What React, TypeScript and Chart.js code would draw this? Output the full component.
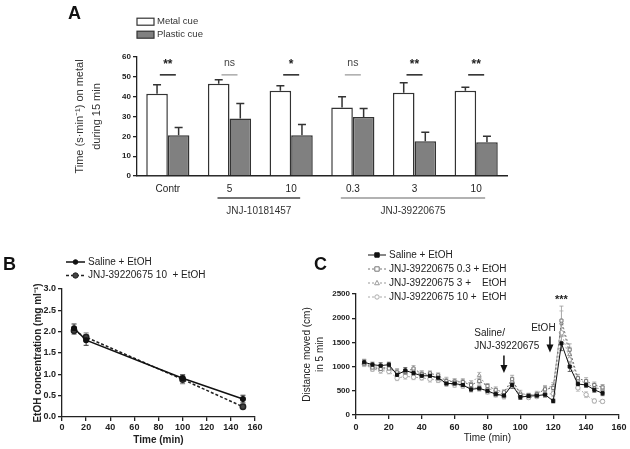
import React, { useEffect, useRef } from 'react';
import { Chart, registerables } from 'chart.js';

Chart.register(...registerables);

const FONT = "'Liberation Sans', Arial, Helvetica, sans-serif";
Chart.defaults.font.family = FONT;
Chart.defaults.color = '#222';

// ---------- Panel A ----------
const catsA = ['Contr', '5', '10', '0.3', '3', '10'];
const metalA = [41.5, 46.5, 43, 34.5, 42, 43];
const metalErrA = [4.5, 2, 2.5, 5.5, 5, 1.8];
const plasticA = [20.5, 29, 20.5, 29.7, 17.5, 17];
const plasticErrA = [4, 7.5, 5.5, 4.3, 4.5, 3];
const sigA = ['**', 'ns', '*', 'ns', '**', '**'];
const drugGroupsA = ['JNJ-10181457', 'JNJ-39220675'];
const drugGroupStartA = [1, 3];
const drugGroupEndA = [2, 5];

// ---------- Panel B ----------
const timeB = [10, 20, 100, 150];
const salineB = [2.08, 1.8, 0.91, 0.42];
const salineErrB = [0.1, 0.12, 0.08, 0.09];
const jnjB = [2.02, 1.87, 0.88, 0.24];
const jnjErrB = [0.08, 0.1, 0.1, 0.05];

// ---------- Panel C ----------
const timeC = [5, 10, 15, 20, 25, 30, 35, 40, 45, 50, 55, 60, 65, 70, 75, 80, 85, 90, 95, 100, 105, 110, 115, 120, 125, 130, 135, 140, 145, 150];
const salineC = [1090, 1040, 1020, 1040, 830, 920, 865, 810, 810, 770, 650, 650, 620, 530, 550, 500, 430, 400, 620, 370, 390, 400, 420, 290, 1480, 1000, 640, 620, 520, 450];
const salineErrC = [60, 50, 60, 50, 50, 60, 50, 60, 50, 60, 40, 40, 40, 50, 50, 50, 50, 50, 70, 50, 40, 40, 50, 40, 150, 100, 60, 50, 50, 50];
const jnj03C = [1060, 980, 950, 960, 880, 890, 960, 850, 860, 820, 700, 690, 680, 620, 700, 600, 520, 470, 740, 420, 410, 430, 530, 560, 1950, 1350, 760, 700, 620, 570];
const jnj03ErrC = [50, 60, 50, 50, 60, 50, 60, 60, 50, 50, 60, 50, 50, 50, 60, 50, 60, 50, 80, 50, 40, 40, 60, 70, 300, 120, 80, 70, 60, 60];
const jnj3C = [1080, 1000, 980, 980, 900, 860, 900, 840, 820, 740, 720, 700, 700, 650, 820, 560, 480, 430, 700, 460, 400, 440, 550, 600, 1900, 1250, 720, 660, 560, 540];
const jnj3ErrC = [60, 50, 60, 60, 60, 60, 60, 70, 60, 60, 60, 50, 50, 60, 60, 70, 60, 50, 80, 50, 40, 50, 60, 70, 250, 150, 80, 60, 60, 60];
const jnj10C = [1050, 950, 920, 900, 760, 800, 780, 770, 740, 720, 640, 620, 600, 560, 560, 480, 420, 380, 660, 390, 360, 380, 430, 440, 1700, 1150, 560, 420, 290, 280];
const jnj10ErrC = [50, 50, 60, 50, 50, 60, 50, 50, 60, 50, 50, 50, 50, 50, 50, 50, 50, 50, 70, 40, 40, 40, 50, 60, 200, 120, 70, 60, 40, 40];

function drawErrors(chart: any, upOnly: boolean, cap: number, lw: number) {
  const ctx = chart.ctx;
  const ys = chart.scales.y;
  chart.data.datasets.forEach((ds: any, i: number) => {
    if (!ds.errors) return;
    const meta = chart.getDatasetMeta(i);
    ctx.save();
    ctx.strokeStyle = ds.errorColor || '#222';
    ctx.lineWidth = lw;
    ctx.setLineDash([]);
    meta.data.forEach((el: any, j: number) => {
      const raw = ds.data[j];
      const v = typeof raw === 'number' ? raw : raw.y;
      const e = ds.errors[j];
      const x = el.x;
      const yt = ys.getPixelForValue(v + e);
      const yb = upOnly ? ys.getPixelForValue(v) : ys.getPixelForValue(v - e);
      ctx.beginPath();
      ctx.moveTo(x, yb);
      ctx.lineTo(x, yt);
      ctx.moveTo(x - cap / 2, yt);
      ctx.lineTo(x + cap / 2, yt);
      if (!upOnly) {
        ctx.moveTo(x - cap / 2, yb);
        ctx.lineTo(x + cap / 2, yb);
      }
      ctx.stroke();
    });
    ctx.restore();
  });
}

function drawMarker(ctx: any, style: string, x: number, y: number, r: number, fill: string, stroke: string) {
  ctx.save();
  ctx.setLineDash([]);
  ctx.beginPath();
  if (style === 'rect') ctx.rect(x - r, y - r, 2 * r, 2 * r);
  else if (style === 'triangle') {
    ctx.moveTo(x, y - r * 1.2);
    ctx.lineTo(x + r * 1.1, y + r * 0.8);
    ctx.lineTo(x - r * 1.1, y + r * 0.8);
    ctx.closePath();
  } else ctx.arc(x, y, r, 0, Math.PI * 2);
  ctx.fillStyle = fill;
  ctx.fill();
  ctx.strokeStyle = stroke;
  ctx.lineWidth = 1;
  ctx.stroke();
  ctx.restore();
}

function drawLineLegend(chart: any, x0: number, y0: number, rowH: number, sampleW: number, fontSize: number) {
  const ctx = chart.ctx;
  chart.data.datasets.forEach((ds: any, i: number) => {
    const y = y0 + i * rowH;
    ctx.save();
    ctx.strokeStyle = ds.borderColor;
    ctx.lineWidth = ds.borderWidth;
    ctx.setLineDash(ds.borderDash || []);
    ctx.beginPath();
    ctx.moveTo(x0, y);
    ctx.lineTo(x0 + sampleW, y);
    ctx.stroke();
    ctx.restore();
    drawMarker(ctx, ds.pointStyle, x0 + sampleW / 2, y, ds.pointRadius, ds.pointBackgroundColor, ds.pointBorderColor);
    ctx.save();
    ctx.fillStyle = '#222';
    ctx.font = `${fontSize}px ${FONT}`;
    ctx.textAlign = 'left';
    ctx.textBaseline = 'middle';
    ctx.fillText(ds.label, x0 + sampleW + 3, y);
    ctx.restore();
  });
}

function panelLetter(ctx: any, t: string, x: number, y: number) {
  ctx.save();
  ctx.font = `bold 18px ${FONT}`;
  ctx.fillStyle = '#111';
  ctx.textAlign = 'left';
  ctx.textBaseline = 'middle';
  ctx.fillText(t, x, y);
  ctx.restore();
}

function arrow(ctx: any, x: number, y1: number, y2: number) {
  ctx.save();
  ctx.strokeStyle = '#111';
  ctx.fillStyle = '#111';
  ctx.lineWidth = 1.5;
  ctx.beginPath();
  ctx.moveTo(x, y1);
  ctx.lineTo(x, y2 - 6);
  ctx.stroke();
  ctx.beginPath();
  ctx.moveTo(x - 3.5, y2 - 8);
  ctx.lineTo(x + 3.5, y2 - 8);
  ctx.lineTo(x, y2);
  ctx.closePath();
  ctx.fill();
  ctx.restore();
}

const axisCommon = (extra: any) => ({
  grid: { drawOnChartArea: false, tickLength: 4, color: '#222', lineWidth: 1.3 },
  border: { display: true, color: '#222', width: 1.3 },
  ...extra,
});

function makeA(canvas: HTMLCanvasElement) {
  const plugin = {
    id: 'panelA',
    afterDatasetsDraw(chart: any) {
      drawErrors(chart, true, 8, 1.5);
    },
    afterDraw(chart: any) {
      const ctx = chart.ctx;
      const xs = chart.scales.x;
      const ys = chart.scales.y;
      panelLetter(ctx, 'A', 68, 14);
      chart.data.datasets.forEach((ds: any, i: number) => {
        const ly = 21.7 + i * 13;
        ctx.save();
        ctx.fillStyle = ds.backgroundColor;
        ctx.fillRect(137, ly - 3.5, 17, 7);
        ctx.strokeStyle = '#333';
        ctx.lineWidth = 1.2;
        ctx.strokeRect(137, ly - 3.5, 17, 7);
        ctx.fillStyle = '#333';
        ctx.font = `9.5px ${FONT}`;
        ctx.textAlign = 'left';
        ctx.textBaseline = 'middle';
        ctx.fillText(ds.label, 157, ly);
        ctx.restore();
      });
      sigA.forEach((s, i) => {
        const cx = xs.getPixelForValue(i);
        const isNs = s === 'ns';
        ctx.save();
        ctx.strokeStyle = isNs ? '#aaa' : '#222';
        ctx.lineWidth = 1.5;
        const ly = ys.getPixelForValue(51);
        ctx.beginPath();
        ctx.moveTo(cx - 8, ly);
        ctx.lineTo(cx + 8, ly);
        ctx.stroke();
        ctx.fillStyle = isNs ? '#444' : '#222';
        ctx.font = isNs ? `10.5px ${FONT}` : `bold 12px ${FONT}`;
        ctx.textAlign = 'center';
        ctx.textBaseline = 'middle';
        ctx.fillText(s, cx, ys.getPixelForValue(isNs ? 57 : 56));
        ctx.restore();
      });
      drugGroupsA.forEach((g, i) => {
        const x1 = xs.getPixelForValue(drugGroupStartA[i]) - 12;
        const x2 = xs.getPixelForValue(drugGroupEndA[i]) + 9;
        ctx.save();
        ctx.strokeStyle = i === 0 ? '#444' : '#999';
        ctx.lineWidth = 1.3;
        ctx.beginPath();
        ctx.moveTo(x1, 198);
        ctx.lineTo(x2, 198);
        ctx.stroke();
        ctx.fillStyle = '#333';
        ctx.font = `10px ${FONT}`;
        ctx.textAlign = 'center';
        ctx.textBaseline = 'middle';
        ctx.fillText(g, (x1 + x2) / 2, 211);
        ctx.restore();
      });
    },
  };
  return new Chart(canvas, {
    type: 'bar',
    data: {
      labels: catsA,
      datasets: [
        { label: 'Metal cue', data: metalA, backgroundColor: '#ffffff', borderColor: '#333', borderWidth: 1.5, errors: metalErrA, errorColor: '#333' } as any,
        { label: 'Plastic cue', data: plasticA, backgroundColor: '#808080', borderColor: '#333', borderWidth: 1.5, errors: plasticErrA, errorColor: '#333' } as any,
      ],
    },
    options: {
      animation: false,
      responsive: false,
      layout: { padding: { left: 0, top: 57, right: 123, bottom: 0 } },
      plugins: { legend: { display: false }, tooltip: { enabled: false } },
      datasets: { bar: { categoryPercentage: 0.7, barPercentage: 1.0 } },
      scales: {
        x: {
          afterFit: (s: any) => { s.height = 56; },
          grid: { display: false, drawTicks: false },
          border: { display: true, color: '#222', width: 1.5 },
          ticks: { padding: 7, color: '#222', font: { size: 10 } },
        },
        y: axisCommon({
          min: 0,
          max: 60,
          afterFit: (s: any) => { s.width = 137; },
          ticks: { stepSize: 10, color: '#222', font: { size: 8, weight: 'bold' }, padding: 2 },
          title: {
            display: true,
            text: ['Time (s·min⁻¹) on metal', 'during 15 min'],
            color: '#333',
            font: { size: 11, lineHeight: 1.5 },
            padding: { top: 72, bottom: 0 },
          },
        }),
      },
    } as any,
    plugins: [plugin],
  });
}

function makeB(canvas: HTMLCanvasElement) {
  const plugin = {
    id: 'panelB',
    beforeDatasetsDraw(chart: any) {
      drawErrors(chart, false, 5, 1);
    },
    afterDraw(chart: any) {
      panelLetter(chart.ctx, 'B', 3, 33);
      drawLineLegend(chart, 66, 30, 13.5, 19, 10);
    },
  };
  return new Chart(canvas, {
    type: 'line',
    data: {
      datasets: [
        {
          label: 'Saline + EtOH',
          data: timeB.map((t, i) => ({ x: t, y: salineB[i] })),
          borderColor: '#111', borderWidth: 1.5, borderDash: [],
          pointStyle: 'circle', pointRadius: 2.3, pointBackgroundColor: '#111', pointBorderColor: '#111',
          errors: salineErrB, errorColor: '#333',
        } as any,
        {
          label: 'JNJ-39220675 10  + EtOH',
          data: timeB.map((t, i) => ({ x: t, y: jnjB[i] })),
          borderColor: '#222', borderWidth: 1.5, borderDash: [3, 2],
          pointStyle: 'circle', pointRadius: 2.7, pointBackgroundColor: '#444', pointBorderColor: '#222',
          errors: jnjErrB, errorColor: '#777',
        } as any,
      ],
    },
    options: {
      animation: false,
      responsive: false,
      layout: { padding: { left: 0, top: 57, right: 40, bottom: 0 } },
      plugins: { legend: { display: false }, tooltip: { enabled: false } },
      scales: {
        x: axisCommon({
          type: 'linear', min: 0, max: 160,
          afterFit: (s: any) => { s.height = 32; },
          ticks: { stepSize: 20, font: { size: 9, weight: 'bold' }, padding: 1.5, color: '#222' },
          title: { display: true, text: 'Time (min)', color: '#222', font: { size: 10, weight: 'bold' }, padding: { top: 0, bottom: 3 } },
        }),
        y: axisCommon({
          min: 0, max: 3,
          afterFit: (s: any) => { s.width = 62; },
          ticks: { stepSize: 0.5, font: { size: 9, weight: 'bold' }, padding: 2, color: '#222', callback: (v: any) => Number(v).toFixed(1) },
          title: { display: true, text: 'EtOH concentration (mg ml⁻¹)', color: '#222', font: { size: 10, weight: 'bold' }, padding: { top: 32, bottom: 0 } },
        }),
      },
    } as any,
    plugins: [plugin],
  });
}

function makeC(canvas: HTMLCanvasElement) {
  const plugin = {
    id: 'panelC',
    beforeDatasetsDraw(chart: any) {
      drawErrors(chart, false, 4, 0.8);
    },
    afterDraw(chart: any) {
      const ctx = chart.ctx;
      const xs = chart.scales.x;
      const ys = chart.scales.y;
      panelLetter(ctx, 'C', 19, 33);
      drawLineLegend(chart, 73, 23, 14, 18, 10);
      ctx.save();
      ctx.fillStyle = '#222';
      ctx.font = `bold 11px ${FONT}`;
      ctx.textAlign = 'center';
      ctx.textBaseline = 'middle';
      ctx.fillText('***', xs.getPixelForValue(125), ys.getPixelForValue(2380));
      ctx.font = `10px ${FONT}`;
      ctx.textAlign = 'left';
      ctx.fillText('Saline/', xs.getPixelForValue(72), ys.getPixelForValue(1690));
      ctx.fillText('JNJ-39220675', xs.getPixelForValue(72), ys.getPixelForValue(1420));
      ctx.textAlign = 'center';
      ctx.fillText('EtOH', xs.getPixelForValue(114), ys.getPixelForValue(1790));
      ctx.restore();
      arrow(ctx, xs.getPixelForValue(90), ys.getPixelForValue(1230), ys.getPixelForValue(870));
      arrow(ctx, xs.getPixelForValue(118), ys.getPixelForValue(1620), ys.getPixelForValue(1290));
    },
  };
  const mk = (label: string, vals: number[], errs: number[], color: string, fill: string, dash: number[], style: string, errColor: string) => ({
    label,
    data: timeC.map((t, i) => ({ x: t, y: vals[i] })),
    borderColor: color, borderWidth: 1, borderDash: dash,
    pointStyle: style, pointRadius: 2.2, pointBackgroundColor: fill, pointBorderColor: color, pointBorderWidth: 1,
    errors: errs, errorColor: errColor,
  } as any);
  return new Chart(canvas, {
    type: 'line',
    data: {
      datasets: [
        mk('Saline + EtOH', salineC, salineErrC, '#111', '#111', [], 'rect', '#444'),
        mk('JNJ-39220675 0.3 + EtOH', jnj03C, jnj03ErrC, '#777', '#fff', [2, 2], 'rect', '#999'),
        mk('JNJ-39220675 3 +    EtOH', jnj3C, jnj3ErrC, '#999', '#fff', [2, 2], 'triangle', '#aaa'),
        mk('JNJ-39220675 10 +  EtOH', jnj10C, jnj10ErrC, '#aaa', '#fff', [2, 2], 'circle', '#bbb'),
      ],
    },
    options: {
      animation: false,
      responsive: false,
      layout: { padding: { left: 0, top: 62, right: 10, bottom: 0 } },
      plugins: { legend: { display: false }, tooltip: { enabled: false } },
      scales: {
        x: axisCommon({
          type: 'linear', min: 0, max: 160,
          afterFit: (s: any) => { s.height = 34; },
          ticks: { stepSize: 20, font: { size: 9, weight: 'bold' }, padding: 3.5, color: '#222' },
          title: { display: true, text: 'Time (min)', color: '#222', font: { size: 10 }, padding: { top: 0, bottom: 5 } },
        }),
        y: axisCommon({
          min: 0, max: 2500,
          afterFit: (s: any) => { s.width = 61; },
          ticks: { stepSize: 500, font: { size: 8, weight: 'bold' }, padding: 2, color: '#222', callback: (v: any) => String(v) },
          title: { display: true, text: ['Distance moved (cm)', 'in 5 min'], color: '#222', font: { size: 10, lineHeight: 1.3 }, padding: { top: 5.5, bottom: 0 } },
        }),
      },
    } as any,
    plugins: [plugin],
  });
}

export default function App() {
  const refA = useRef<HTMLCanvasElement>(null);
  const refB = useRef<HTMLCanvasElement>(null);
  const refC = useRef<HTMLCanvasElement>(null);
  useEffect(() => {
    const charts = [makeA(refA.current!), makeB(refB.current!), makeC(refC.current!)];
    return () => charts.forEach((c) => c.destroy());
  }, []);
  return (
    <div style={{ position: 'fixed', left: 0, top: 0, width: 630, height: 449, background: '#fff', overflow: 'hidden' }}>
      <canvas ref={refA} width={630} height={232} style={{ position: 'absolute', left: 0, top: 0 }} />
      <canvas ref={refB} width={295} height={217} style={{ position: 'absolute', left: 0, top: 232 }} />
      <canvas ref={refC} width={335} height={217} style={{ position: 'absolute', left: 295, top: 232 }} />
    </div>
  );
}
